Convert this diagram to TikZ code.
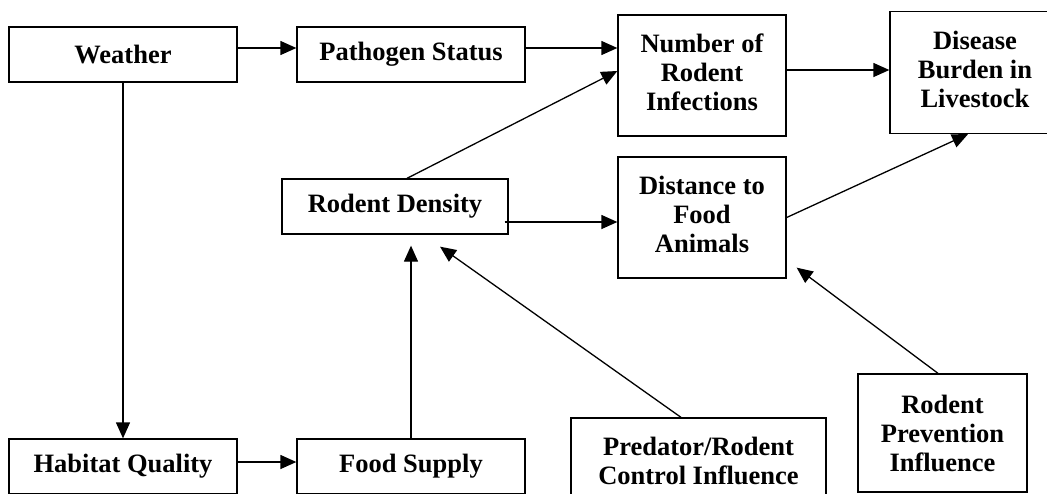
\documentclass[tikz,border=0pt]{standalone}
\usepackage{fontspec}
\setmainfont{Liberation Serif}
\usetikzlibrary{arrows.meta}

\begin{document}
\begin{tikzpicture}[x=1pt,y=-1pt,->,>={Triangle[length=16pt,width=14pt]},
	line width=1.3pt,
	box node/.style={rectangle,draw,inner sep=0pt,align=center,
		font=\fontsize{26.5}{29}\selectfont\bfseries},
	tall node/.style={box node,text depth=7pt}]
	
	\useasboundingbox (0,0) rectangle (1047,493);
	\clip (0,0) rectangle (1047,493);
	
	\node[box node,minimum width=228pt,minimum height=55pt] (weather) at (123,54.5) {Weather};
	\node[box node,minimum width=228pt,minimum height=55pt] (pathogen) at (411,54.5) {Pathogen Status};
	\node[tall node,minimum width=168pt,minimum height=121pt] (number) at (702,75.5) {Number of\\Rodent\\Infections};
	\node[tall node,minimum width=170pt,minimum height=122pt] (disease) at (975,72.5) {Disease\\Burden in\\Livestock};
	\node[box node,minimum width=226pt,minimum height=55pt] (density) at (395,206.5) {Rodent Density};
	\node[tall node,minimum width=168pt,minimum height=121pt] (distance) at (702,217.5) {Distance to\\Food\\Animals};
	\node[box node,minimum width=228pt,minimum height=55pt] (habitat) at (123,466.5) {Habitat Quality};
	\node[box node,minimum width=228pt,minimum height=55pt] (food) at (411,466.5) {Food Supply};
	\node[box node,minimum width=255pt,minimum height=86pt] (control) at (698.5,461) {Predator/Rodent\\Control Influence};
	\node[box node,minimum width=169pt,minimum height=118pt] (prevention) at (942.5,433) {Rodent\\Prevention\\Influence};
	
	% top row
	\draw ([yshift=6.5pt]weather.east) -- ([yshift=6.5pt]pathogen.west);
	\draw ([yshift=6.5pt]pathogen.east) -- ([yshift=6.5pt]pathogen.east -| number.west);
	\draw ([yshift=5.5pt]number.east) -- ([yshift=5.5pt]number.east -| disease.west);
	% rodent density
	\draw ([xshift=12pt]density.north) -- ([yshift=4.5pt]number.west);
	\draw ([xshift=-4pt,yshift=-15.5pt]density.east) -- ([yshift=-15.5pt]density.east -| distance.west);
	\draw (distance.east) -- ([xshift=-7pt]disease.south);
	% left side
	\draw (weather.south) -- (habitat.north);
	\draw ([yshift=4.5pt]habitat.east) -- ([yshift=4.5pt]food.west);
	\draw (food.north) -- ([yshift=-11pt]density.south -| food.north);
	% influences
	\draw ([xshift=-17.5pt]control.north) -- ([xshift=45pt,yshift=-12pt]density.south);
	\draw ([xshift=-4.5pt]prevention.north) -- ([xshift=10pt,yshift=11pt]distance.south east);
\end{tikzpicture}
\end{document}
